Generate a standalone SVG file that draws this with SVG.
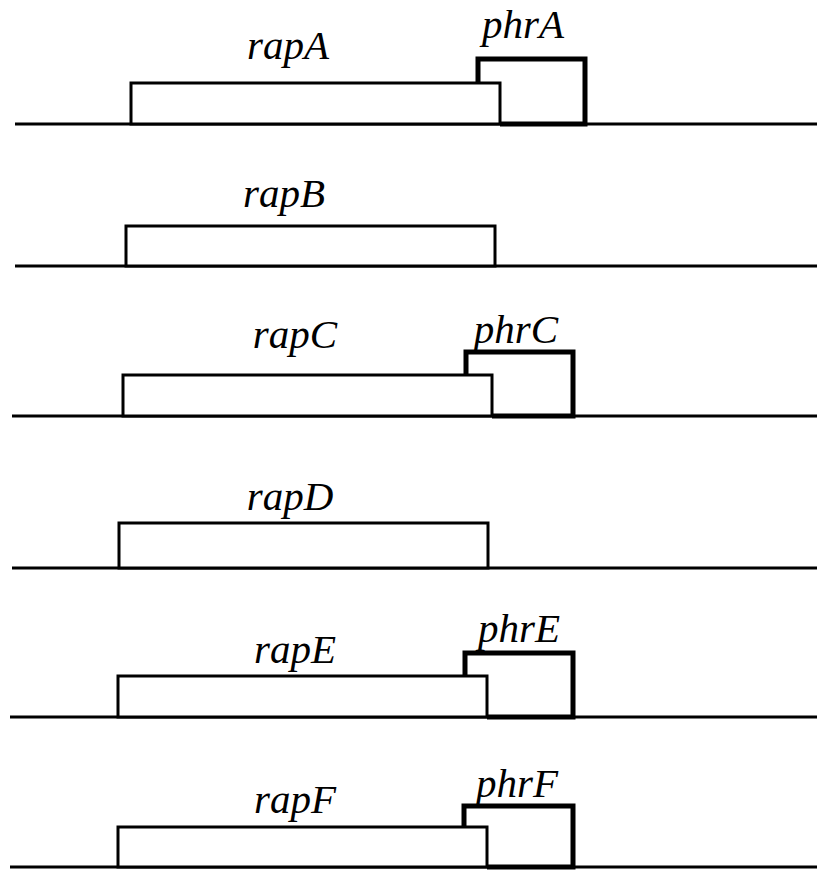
<svg xmlns="http://www.w3.org/2000/svg" width="817" height="872" viewBox="0 0 817 872">
<style>
.bg{fill:#fff}
.line{stroke:#000;stroke-width:3;fill:none}
.rap{fill:#fff;stroke:#000;stroke-width:3}
.phr{fill:none;stroke:#000;stroke-width:5;stroke-linejoin:miter}
.lbl{font-family:"Liberation Serif","Times New Roman",serif;font-style:italic;font-size:41px;fill:#000;text-anchor:middle}
</style>
<rect class="bg" x="0" y="0" width="817" height="872"/>
<g id="connectors">
<line class="line" x1="15" y1="124" x2="817" y2="124"/>
<line class="line" x1="15" y1="266" x2="817" y2="266"/>
<line class="line" x1="12" y1="416" x2="817" y2="416"/>
<line class="line" x1="12" y1="568" x2="817" y2="568"/>
<line class="line" x1="10" y1="717" x2="817" y2="717"/>
<line class="line" x1="10" y1="867" x2="817" y2="867"/>
</g>
<g id="rowA">
<rect class="rap" x="131" y="83" width="369" height="41"/>
<path class="phr" d="M478 83 V59 H585 V124 H500"/>
<text class="lbl" x="288" y="59">rapA</text>
<text class="lbl" x="523" y="38">phrA</text>
</g>
<g id="rowB">
<rect class="rap" x="126" y="226" width="369" height="40"/>
<text class="lbl" x="284" y="207">rapB</text>
</g>
<g id="rowC">
<rect class="rap" x="123" y="375" width="369" height="41"/>
<path class="phr" d="M466 375 V352 H573 V416 H492"/>
<text class="lbl" x="295" y="348">rapC</text>
<text class="lbl" x="516" y="343">phrC</text>
</g>
<g id="rowD">
<rect class="rap" x="119" y="523" width="369" height="45"/>
<text class="lbl" x="290" y="510">rapD</text>
</g>
<g id="rowE">
<rect class="rap" x="118" y="676" width="369" height="41"/>
<path class="phr" d="M465 676 V653 H573 V717 H487"/>
<text class="lbl" x="295" y="663">rapE</text>
<text class="lbl" x="519" y="642">phrE</text>
</g>
<g id="rowF">
<rect class="rap" x="118" y="827" width="369" height="40"/>
<path class="phr" d="M464 827 V806 H573 V867 H487"/>
<text class="lbl" x="295" y="813">rapF</text>
<text class="lbl" x="517" y="797">phrF</text>
</g>
</svg>
